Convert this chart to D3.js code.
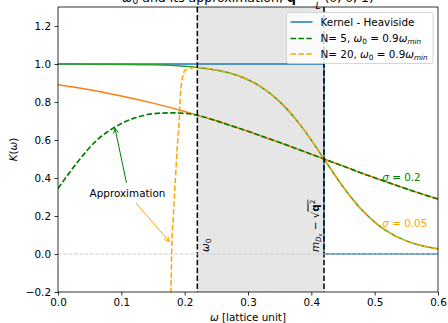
<!DOCTYPE html>
<html>
<head>
<meta charset="utf-8">
<script src="https://cdn.jsdelivr.net/npm/d3@7"></script>
<style>
    body { margin: 0; background: #fff; }
    svg { font-family: "DejaVu Sans", sans-serif; }
</style>
</head>
<body>
<svg width="448" height="323"></svg>
<script>
// valores
const wSmooth   = [0, 0.05, 0.1, 0.15, 0.2, 0.22, 0.25, 0.28, 0.3, 0.32, 0.35, 0.38, 0.4, 0.42, 0.45, 0.48, 0.5, 0.52, 0.55, 0.58, 0.6];
const kSigma02  = [0.891, 0.865, 0.832, 0.794, 0.750, 0.731, 0.701, 0.668, 0.646, 0.622, 0.587, 0.550, 0.525, 0.500, 0.463, 0.425, 0.401, 0.378, 0.343, 0.310, 0.289];
const kSigma005 = [1.0, 0.999, 0.998, 0.996, 0.988, 0.982, 0.968, 0.943, 0.917, 0.881, 0.802, 0.690, 0.599, 0.500, 0.354, 0.231, 0.168, 0.119, 0.069, 0.039, 0.027];

const wN5 = [0, 0.03, 0.06, 0.09, 0.12, 0.15, 0.18, 0.2, 0.22, 0.25, 0.28, 0.3, 0.32, 0.35, 0.38, 0.4, 0.42, 0.45, 0.48, 0.5, 0.52, 0.55, 0.58, 0.6];
const kN5 = [0.345, 0.48, 0.595, 0.668, 0.715, 0.738, 0.743, 0.74, 0.73, 0.701, 0.668, 0.646, 0.622, 0.587, 0.550, 0.525, 0.500, 0.463, 0.425, 0.401, 0.378, 0.343, 0.310, 0.289];

const wN20 = [0.178, 0.1795, 0.182, 0.185, 0.188, 0.1916, 0.193, 0.195, 0.197, 0.2, 0.21, 0.22, 0.25, 0.28, 0.3, 0.32, 0.35, 0.38, 0.4, 0.42, 0.45, 0.48, 0.5, 0.52, 0.55, 0.58, 0.6];
const kN20 = [-0.25, 0.02, 0.196, 0.37, 0.547, 0.72, 0.82, 0.898, 0.935, 0.965, 0.978, 0.982, 0.968, 0.943, 0.917, 0.881, 0.802, 0.690, 0.599, 0.500, 0.354, 0.231, 0.168, 0.119, 0.069, 0.039, 0.027];

const wHeaviside = [0, 0.42, 0.42, 0.6];
const kHeaviside = [1, 1, 0, 0];

const omega0 = 0.22;
const omegaCut = 0.42;

const xTicks = [0, 0.1, 0.2, 0.3, 0.4, 0.5, 0.6];
const yTicks = [-0.2, 0, 0.2, 0.4, 0.6, 0.8, 1.0, 1.2];

const legendLabels = ["Kernel - Heaviside", "N= 5, ", "N= 20, "];

const C0 = "#1f77b4", C1 = "#ff7f0e", C2 = "#2ca02c", GREEN = "green", ORANGE = "orange";
const FS = 10.4;

const svg = d3.select("svg");
const margens = { left: 58, right: 10, top: 7, bottom: 31 };
const width = 448, height = 323;

const x = d3.scaleLinear().domain([0, 0.6]).range([margens.left, width - margens.right]);
const y = d3.scaleLinear().domain([-0.2, 1.3]).range([height - margens.bottom, margens.top]);

const toPts = (ws, ks) => ws.map((w, i) => [w, ks[i]]);

svg.append("defs").append("clipPath").attr("id", "plot")
    .append("rect")
    .attr("x", x(0)).attr("y", y(1.3))
    .attr("width", x(0.6) - x(0)).attr("height", y(-0.2) - y(1.3));

const plot = svg.append("g").attr("clip-path", "url(#plot)");

// faixa cinza entre omega0 e o corte
plot.append("rect")
    .attr("x", x(omega0)).attr("y", y(1.3))
    .attr("width", x(omegaCut) - x(omega0))
    .attr("height", y(-0.2) - y(1.3))
    .attr("fill", "#e6e6e6");

const line = d3.line().x(d => x(d[0])).y(d => y(d[1]));
const smooth = d3.line().x(d => x(d[0])).y(d => y(d[1])).curve(d3.curveMonotoneX);

plot.append("path").datum(toPts(wHeaviside, kHeaviside))
    .attr("d", line).attr("fill", "none").attr("stroke", C0).attr("stroke-width", 1.5);

plot.append("path").datum(toPts(wSmooth, kSigma02))
    .attr("d", smooth).attr("fill", "none").attr("stroke", C1).attr("stroke-width", 1.5);

plot.append("path").datum(toPts(wSmooth, kSigma005))
    .attr("d", smooth).attr("fill", "none").attr("stroke", C2).attr("stroke-width", 1.5);

plot.append("path").datum(toPts(wN5, kN5))
    .attr("d", smooth).attr("fill", "none").attr("stroke", GREEN).attr("stroke-width", 1.7)
    .attr("stroke-dasharray", "5.5,2.4");

plot.append("path").datum(toPts(wN20, kN20))
    .attr("d", smooth).attr("fill", "none").attr("stroke", ORANGE).attr("stroke-width", 1.5)
    .attr("stroke-dasharray", "5.5,2.4");

// linhas verticais tracejadas
[omega0, omegaCut].forEach(w => {
    plot.append("line")
        .attr("x1", x(w)).attr("x2", x(w))
        .attr("y1", y(1.3)).attr("y2", y(-0.2))
        .attr("stroke", "black").attr("stroke-width", 1.5)
        .attr("stroke-dasharray", "5.5,2.4");
});

// linha do zero
plot.append("line")
    .attr("x1", x(0)).attr("x2", x(0.6))
    .attr("y1", y(0)).attr("y2", y(0))
    .attr("stroke", "#cccccc").attr("stroke-width", 1)
    .attr("stroke-dasharray", "3.7,1.6");

// rótulos dos sigmas
function sigmaLabel(w, k, val, color) {
    const t = svg.append("text").attr("x", x(w)).attr("y", y(k))
        .attr("font-size", FS).attr("fill", color);
    t.append("tspan").attr("font-style", "italic").text("σ");
    t.append("tspan").text(" = " + val);
}
sigmaLabel(0.512, 0.384, "0.2", GREEN);
sigmaLabel(0.512, 0.143, "0.05", ORANGE);

// rótulo omega0 (vertical)
const w0 = svg.append("text")
    .attr("transform", `translate(${x(omega0) + 11.5},${y(0) - 2}) rotate(-90)`)
    .attr("font-size", FS);
w0.append("tspan").attr("font-style", "italic").text("ω");
w0.append("tspan").attr("font-size", FS * 0.7).attr("dy", 2).text("0");

// rótulo m_Ds - sqrt(q^2)
const mq = svg.append("text")
    .attr("transform", `translate(${x(omegaCut) - 5.5},${y(0) - 2}) rotate(-90)`)
    .attr("font-size", FS);
mq.append("tspan").attr("font-style", "italic").text("m");
mq.append("tspan").attr("font-style", "italic").attr("font-size", FS * 0.7).attr("dy", 2).text("D");
mq.append("tspan").attr("font-style", "italic").attr("font-size", FS * 0.5).attr("dy", 1.5).text("s");
mq.append("tspan").attr("dy", -3.5).text(" − √");
const qq = mq.append("tspan").attr("text-decoration", "overline");
qq.append("tspan").attr("font-weight", "bold").text("q");
qq.append("tspan").attr("font-size", FS * 0.7).attr("dy", -4).text("2");

// anotação "Approximation"
svg.append("text").attr("x", 127.5).attr("y", 196.8)
    .attr("text-anchor", "middle").attr("font-size", FS).text("Approximation");

function arrow(x0, y0, x1, y1, color) {
    const ang = Math.atan2(y1 - y0, x1 - x0);
    const hl = 5, hw = 2.4;
    const bx = x1 - hl * Math.cos(ang), by = y1 - hl * Math.sin(ang);
    const px = -Math.sin(ang) * hw, py = Math.cos(ang) * hw;
    svg.append("path")
        .attr("d", `M${x0},${y0}L${x1},${y1}M${bx + px},${by + py}L${x1},${y1}L${bx - px},${by - py}`)
        .attr("fill", "none").attr("stroke", color).attr("stroke-width", 1);
}
arrow(126.5, 183, x(0.09), y(0.662), GREEN);
arrow(136, 203, x(0.1757), y(0.065), ORANGE);

// moldura dos eixos
svg.append("rect")
    .attr("x", x(0)).attr("y", y(1.3))
    .attr("width", x(0.6) - x(0)).attr("height", y(-0.2) - y(1.3))
    .attr("fill", "none").attr("stroke", "black").attr("stroke-width", 0.8);

const fmt = d3.format(".1f");
const xAxis = svg.append("g")
    .attr("transform", `translate(0,${y(-0.2)})`)
    .call(d3.axisBottom(x).tickValues(xTicks).tickFormat(fmt).tickSize(3.5).tickPadding(3.5).tickSizeOuter(0));
const yAxis = svg.append("g")
    .attr("transform", `translate(${x(0)},0)`)
    .call(d3.axisLeft(y).tickValues(yTicks).tickFormat(fmt).tickSize(3.5).tickPadding(3.5).tickSizeOuter(0));
[xAxis, yAxis].forEach(a => {
    a.select(".domain").remove();
    a.selectAll("line").attr("stroke-width", 0.8);
    a.selectAll("text").attr("font-size", FS).attr("font-family", "DejaVu Sans").attr("fill", "black");
});

// títulos dos eixos
const xl = svg.append("text").attr("x", (x(0) + x(0.6)) / 2).attr("y", 321)
    .attr("text-anchor", "middle").attr("font-size", FS);
xl.append("tspan").attr("font-style", "italic").text("ω");
xl.append("tspan").text(" [lattice unit]");

const yl = svg.append("text")
    .attr("transform", `translate(17,${(y(-0.2) + y(1.3)) / 2}) rotate(-90)`)
    .attr("text-anchor", "middle").attr("font-size", FS);
yl.append("tspan").attr("font-style", "italic").text("K");
yl.append("tspan").text("(");
yl.append("tspan").attr("font-style", "italic").text("ω");
yl.append("tspan").text(")");

// título (cortado no topo)
const tt = svg.append("text").attr("x", (x(0) + x(0.6)) / 2).attr("y", 1.5)
    .attr("text-anchor", "middle").attr("font-size", 12.5);
tt.append("tspan").attr("font-style", "italic").text("ω");
tt.append("tspan").attr("font-size", 9).attr("dy", 2.5).text("0");
tt.append("tspan").attr("dy", -2.5).text(" and its approximation, ");
tt.append("tspan").attr("font-weight", "bold").text("q");
tt.append("tspan").text(" = ");
tt.append("tspan").attr("font-size", 9).attr("dy", -6).text("2π");
tt.append("tspan").attr("font-size", 9).attr("font-style", "italic").attr("dx", -10).attr("dy", 13).text("L");
tt.append("tspan").attr("dy", -7).text(" (0, 0, 1)");

// legenda
const lg = svg.append("g");
lg.append("rect")
    .attr("x", 286.5).attr("y", 12.5).attr("width", 146.5).attr("height", 51)
    .attr("rx", 2.5).attr("fill", "white").attr("fill-opacity", 0.8)
    .attr("stroke", "#cccccc").attr("stroke-width", 0.8);
const rowsY = [22, 38.5, 54];
const legendStyles = [
    { color: C0, dash: null },
    { color: GREEN, dash: "5.5,2.4" },
    { color: ORANGE, dash: "5.5,2.4" }
];
legendLabels.forEach((lab, i) => {
    lg.append("line")
        .attr("x1", 290.5).attr("x2", 312.5)
        .attr("y1", rowsY[i]).attr("y2", rowsY[i])
        .attr("stroke", legendStyles[i].color).attr("stroke-width", i === 0 ? 1.5 : 1.7)
        .attr("stroke-dasharray", legendStyles[i].dash);
    const t = lg.append("text").attr("x", 320.5).attr("y", rowsY[i] + 3.7).attr("font-size", FS);
    t.append("tspan").text(lab);
    if (i > 0) {
        t.append("tspan").attr("font-style", "italic").text("ω");
        t.append("tspan").attr("font-size", FS * 0.7).attr("dy", 2).text("0");
        t.append("tspan").attr("dy", -2).text(" = 0.9");
        t.append("tspan").attr("font-style", "italic").text("ω");
        t.append("tspan").attr("font-style", "italic").attr("font-size", FS * 0.7).attr("dy", 2).text("min");
    }
});
</script>
</body>
</html>
